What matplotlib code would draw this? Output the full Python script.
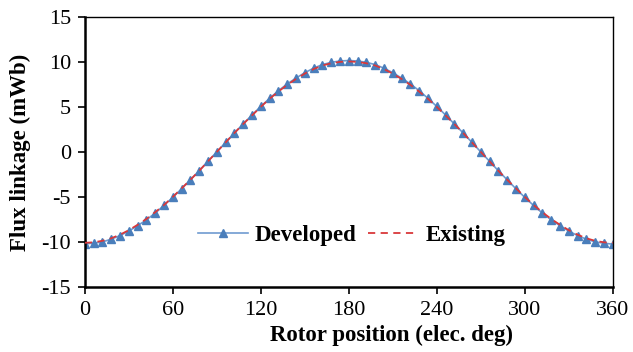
import matplotlib
matplotlib.use("Agg")
import matplotlib.pyplot as plt

plt.rcParams['font.family'] = ['Liberation Serif', 'DejaVu Serif']
plt.rcParams['axes.unicode_minus'] = False

# rotor position (elec. deg), 6 degree steps
position = list(range(0, 361, 6))

developed = [-10.2, -10.15, -10.0, -9.7, -9.3, -8.8, -8.2, -7.55, -6.8, -5.95,
             -5.05, -4.1, -3.1, -2.1, -1.05, 0.0, 1.05, 2.1, 3.1, 4.1,
             5.05, 5.95, 6.8, 7.55, 8.2, 8.8, 9.3, 9.7, 9.95, 10.1,
             10.15, 10.1, 9.95, 9.7, 9.3, 8.8, 8.2, 7.55, 6.8, 5.95,
             5.05, 4.1, 3.1, 2.1, 1.05, 0.0, -1.05, -2.1, -3.1, -4.1,
             -5.05, -5.95, -6.8, -7.55, -8.2, -8.8, -9.3, -9.7, -10.0, -10.15,
             -10.25]

existing = [-10.1, -10.05, -9.88, -9.6, -9.2, -8.7, -8.1, -7.45, -6.7, -5.9,
            -5.0, -4.05, -3.1, -2.1, -1.05, 0.0, 1.05, 2.1, 3.1, 4.05,
            5.0, 5.9, 6.7, 7.45, 8.1, 8.7, 9.2, 9.6, 9.85, 10.0,
            10.05, 10.0, 9.85, 9.6, 9.2, 8.7, 8.1, 7.45, 6.7, 5.9,
            5.0, 4.05, 3.1, 2.1, 1.05, 0.0, -1.05, -2.1, -3.1, -4.05,
            -5.0, -5.9, -6.7, -7.45, -8.1, -8.7, -9.2, -9.6, -9.88, -10.05,
            -10.1]

x_ticks = [0, 60, 120, 180, 240, 300, 360]
y_ticks = [-15, -10, -5, 0, 5, 10, 15]

fig = plt.figure(figsize=(6.33, 3.52), dpi=100)
ax = fig.add_axes([0.134, 0.185, 0.834, 0.767])

ax.plot(position, developed, color='#6F9BD1', lw=1.2, marker='^',
        markersize=5.5, markerfacecolor='#4A7EBB', markeredgecolor='#4A7EBB',
        label='Developed', zorder=2)
ax.plot(position, existing, color='#D9383A', lw=1.3, ls=(0, (4, 3)),
        label='Existing', zorder=3)

ax.set_xlim(0, 360)
ax.set_ylim(-15, 15)
ax.set_xticks(x_ticks)
ax.set_yticks(y_ticks)
ax.tick_params(direction='out', length=5, width=1.2, labelsize=16, pad=5)

for side in ['left', 'bottom']:
    ax.spines[side].set_linewidth(1.8)
for side in ['top', 'right']:
    ax.spines[side].set_linewidth(1.0)

ax.set_xlabel('Rotor position (elec. deg)', fontsize=16.5, fontweight='bold')
ax.xaxis.set_label_coords(0.58, -0.14)
ax.set_ylabel('Flux linkage (mWb)', fontsize=16.5, fontweight='bold')
ax.yaxis.set_label_coords(-0.102, 0.5)

ax.legend(loc='center', bbox_to_anchor=(0.505, 0.19), ncol=2, frameon=False,
          handlelength=2.2, columnspacing=0.5, handletextpad=0.3,
          prop={'weight': 'bold', 'size': 16.5})

fig.savefig('out.png', dpi=100)
